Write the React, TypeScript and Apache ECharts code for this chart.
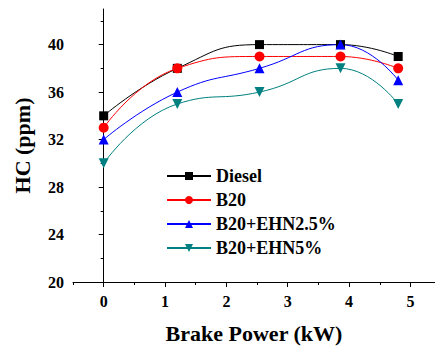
import React, { useEffect, useRef } from "react";
import * as echarts from "echarts";

const seriesNames = ["Diesel", "B20", "B20+EHN2.5%", "B20+EHN5%"];
const brakePower = [0, 1.2, 2.54, 3.86, 4.8];
const diesel = [34, 38, 40, 40, 39];
const b20 = [33, 38, 39, 39, 38];
const ehn25 = [32, 36, 38, 40, 37];
const ehn5 = [30, 35, 36, 38, 35];
const xMajorTicks = [0, 1, 2, 3, 4, 5];
const xMinorTicks = [-0.5, 0.5, 1.5, 2.5, 3.5, 4.5];
const yMajorTicks = [20, 24, 28, 32, 36, 40];
const yMinorTicks = [22, 26, 30, 34, 38, 42];

const colors = ["#000000", "#ff0000", "#0000ff", "#008080"];
const symbols = ["rect", "circle", "triangle", "triangle"];
const symbolSizes = [9, 10, 10, 10];
const symbolRotates = [0, 0, 0, 180];

const FONT = "'Liberation Serif', 'Times New Roman', serif";

export default function App() {
  const ref = useRef<HTMLDivElement>(null);
  useEffect(() => {
    if (!ref.current) return;
    const chart = echarts.init(ref.current, undefined, { renderer: "svg" });
    const values = [diesel, b20, ehn25, ehn5];
    const xBase = {
      type: "value",
      min: -0.5,
      max: 5.4,
      position: "bottom",
      splitLine: { show: false },
    };
    const yBase = {
      type: "value",
      min: 20,
      max: 43,
      position: "left",
      splitLine: { show: false },
    };
    chart.setOption({
      animation: false,
      backgroundColor: "#ffffff",
      grid: { left: 73, right: 0, top: 9, bottom: 60.5, containLabel: false },
      legend: {
        data: seriesNames,
        orient: "vertical",
        left: 161,
        top: 162,
        itemWidth: 44,
        itemHeight: 10,
        itemGap: 6,
        textStyle: { fontFamily: FONT, fontWeight: "bold", fontSize: 18, color: "#000" },
      },
      xAxis: [
        {
          ...xBase,
          name: "Brake Power (kW)",
          nameLocation: "middle",
          nameGap: 40,
          nameTextStyle: { fontFamily: FONT, fontWeight: "bold", fontSize: 22, color: "#000" },
          axisLine: { show: true, lineStyle: { color: "#000", width: 1 } },
          axisTick: { show: true, inside: false, length: 5, customValues: xMajorTicks, lineStyle: { color: "#000" } },
          axisLabel: {
            show: true,
            customValues: xMajorTicks,
            margin: 11,
            fontFamily: FONT,
            fontWeight: "bold",
            fontSize: 16,
            color: "#000",
          },
        },
        {
          ...xBase,
          axisLine: { show: false },
          axisTick: { show: true, inside: false, length: 3, customValues: xMinorTicks, lineStyle: { color: "#000" } },
          axisLabel: { show: false },
        },
      ],
      yAxis: [
        {
          ...yBase,
          name: "HC (ppm)",
          nameLocation: "middle",
          nameGap: 40,
          nameTextStyle: { fontFamily: FONT, fontWeight: "bold", fontSize: 22, color: "#000" },
          axisLine: { show: true, lineStyle: { color: "#000", width: 1 } },
          axisTick: { show: true, inside: false, length: 5, customValues: yMajorTicks, lineStyle: { color: "#000" } },
          axisLabel: {
            show: true,
            customValues: yMajorTicks,
            margin: 9,
            fontFamily: FONT,
            fontWeight: "bold",
            fontSize: 16,
            color: "#000",
          },
        },
        {
          ...yBase,
          axisLine: { show: false },
          axisTick: { show: true, inside: false, length: 3, customValues: yMinorTicks, lineStyle: { color: "#000" } },
          axisLabel: { show: false },
        },
      ],
      series: seriesNames.map((name, i) => ({
        name,
        type: "line",
        xAxisIndex: 0,
        yAxisIndex: 0,
        smooth: 0.5,
        data: brakePower.map((x, j) => [x, values[i][j]]),
        symbol: symbols[i],
        symbolSize: symbolSizes[i],
        symbolRotate: symbolRotates[i],
        showAllSymbol: true,
        itemStyle: { color: colors[i] },
        lineStyle: { color: colors[i], width: 1 },
      })),
    });
    return () => chart.dispose();
  }, []);
  return (
    <div
      ref={ref}
      style={{ position: "absolute", left: 0, top: 0, width: 435, height: 349 }}
    />
  );
}
